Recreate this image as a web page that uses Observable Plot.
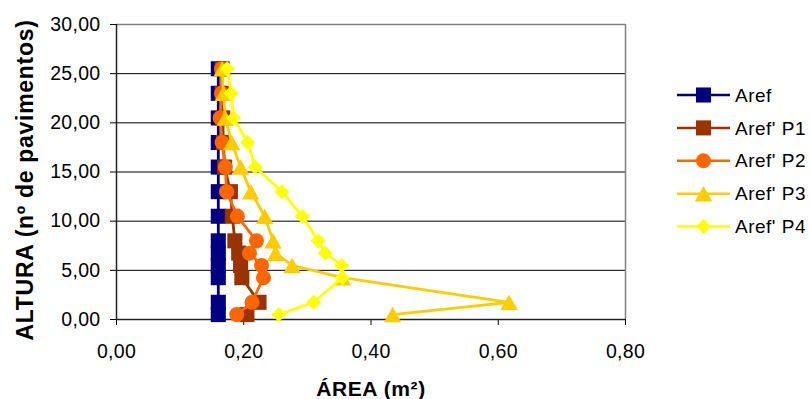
<!DOCTYPE html>
<html>
<head>
<meta charset="utf-8">
<script src="https://cdn.jsdelivr.net/npm/d3@7"></script>
<script src="https://cdn.jsdelivr.net/npm/@observablehq/plot@0.6"></script>
<style>
  html, body { margin: 0; padding: 0; background: #fff; }
  #wrap { position: relative; width: 810px; height: 399px; overflow: hidden; }
  #legend { position: absolute; left: 660px; top: 78px; }
</style>
</head>
<body>
<div id="wrap"><div id="chart"></div><div id="legend"></div></div>
<script>
// ---- data ----
const heights = [0.5, 1.75, 4.25, 5.5, 6.75, 8, 10.5, 13, 15.5, 18, 20.5, 23, 25.5];
const aref   = [0.160, 0.160, 0.160, 0.160, 0.160, 0.160, 0.160, 0.160, 0.160, 0.160, 0.160, 0.160, 0.160];
const arefP1 = [0.205, 0.224, 0.197, 0.195, 0.192, 0.186, 0.182, 0.179, 0.170, 0.168, 0.167, 0.166, 0.166];
const arefP2 = [0.189, 0.213, 0.231, 0.228, 0.209, 0.220, 0.190, 0.173, 0.171, 0.166, 0.163, 0.165, 0.165];
const arefP3 = [0.434, 0.617, 0.355, 0.276, 0.250, 0.246, 0.233, 0.211, 0.195, 0.181, 0.171, 0.168, 0.166];
const arefP4 = [0.255, 0.310, 0.355, 0.354, 0.328, 0.317, 0.292, 0.260, 0.218, 0.206, 0.184, 0.180, 0.174];
const seriesNames = ["Aref", "Aref' P1", "Aref' P2", "Aref' P3", "Aref' P4"];
const seriesValues = [aref, arefP1, arefP2, arefP3, arefP4];
const colors = ["#000080", "#993300", "#FF6600", "#FFCC00", "#FFFF00"];
const xTicks = [0, 0.2, 0.4, 0.6, 0.8];
const yTicks = [0, 5, 10, 15, 20, 25, 30];
const gridLines = [5, 10, 15, 20, 25];
const xTitle = "ÁREA (m²)";
const yTitle = "ALTURA (nº de pavimentos)";

// ---- symbols ----
const diamondSym = { draw(ctx, size) { const h = Math.sqrt(size / 2); ctx.moveTo(0, -h); ctx.lineTo(h, 0); ctx.lineTo(0, h); ctx.lineTo(-h, 0); ctx.closePath(); } };
const triSym = { draw(ctx, size) { const s = Math.sqrt(size) * 1.55; const hh = s * 0.9; ctx.moveTo(0, -hh / 2); ctx.lineTo(s / 2, hh / 2); ctx.lineTo(-s / 2, hh / 2); ctx.closePath(); } };
const symbols = [d3.symbolSquare, d3.symbolSquare, d3.symbolCircle, triSym, diamondSym];
const radii = [8.5, 8.5, 7.5, 6.3, 6];

const fmt = d => d.toFixed(2).replace(".", ",");

const marks = [
  Plot.ruleY(gridLines, {stroke: "#000", strokeWidth: 1}),
  Plot.ruleY([30], {stroke: "#808080", strokeWidth: 1.5}),
  Plot.ruleX([0.8], {stroke: "#808080", strokeWidth: 1.5}),
  Plot.ruleX([0], {stroke: "#222", strokeWidth: 1.5}),
  Plot.ruleY([0], {stroke: "#222", strokeWidth: 1.5})
];
seriesValues.forEach((vals, k) => {
  const rows = heights.map((h, i) => ({x: vals[i], y: h}));
  marks.push(Plot.line(rows, {x: "x", y: "y", stroke: colors[k], strokeWidth: 2.8}));
  marks.push(Plot.dot(rows, {x: "x", y: "y", symbol: symbols[k], r: radii[k], fill: colors[k], stroke: "none"}));
});

const chart = Plot.plot({
  width: 810,
  height: 399,
  marginLeft: 116,
  marginRight: 185,
  marginTop: 24,
  marginBottom: 80,
  style: {fontFamily: "'Liberation Sans', Arial, sans-serif", fontSize: "19.5px", color: "#000", background: "#fff", letterSpacing: "0.3px"},
  x: {domain: [0, 0.8], ticks: xTicks, tickFormat: fmt, tickSize: 6, tickPadding: 19, label: null},
  y: {domain: [0, 30], ticks: yTicks, tickFormat: fmt, tickSize: 6, tickPadding: 10, label: null},
  marks
});
document.getElementById("chart").appendChild(chart);

const svg = d3.select(chart);
svg.append("text")
  .attr("x", 371).attr("y", 396)
  .attr("text-anchor", "middle")
  .style("font-family", "'Liberation Sans', Arial, sans-serif")
  .style("font-size", "21px").style("font-weight", "bold").style("letter-spacing", "0.6px")
  .text(xTitle);
svg.append("text")
  .attr("transform", "translate(33,180) rotate(-90)")
  .attr("text-anchor", "middle")
  .style("font-family", "'Liberation Sans', Arial, sans-serif")
  .style("font-size", "23px").style("font-weight", "bold").style("letter-spacing", "0.7px")
  .text(yTitle);

// ---- legend ----
const lg = d3.select("#legend").append("svg").attr("width", 150).attr("height", 170);
seriesNames.forEach((name, k) => {
  const g = lg.append("g").attr("transform", `translate(0,${17 + k * 32.9})`);
  g.append("line").attr("x1", 17).attr("x2", 70).attr("y1", 0).attr("y2", 0).attr("stroke", colors[k]).attr("stroke-width", 2.5);
  g.append("path").attr("transform", "translate(43.5,0)")
    .attr("d", d3.symbol(symbols[k], Math.PI * radii[k] * radii[k])())
    .attr("fill", colors[k]);
  g.append("text").attr("x", 75).attr("y", 0).attr("dy", "0.35em")
    .style("font-family", "'Liberation Sans', Arial, sans-serif")
    .style("font-size", "19px").style("letter-spacing", "0.5px")
    .text(name);
});
</script>
</body>
</html>
